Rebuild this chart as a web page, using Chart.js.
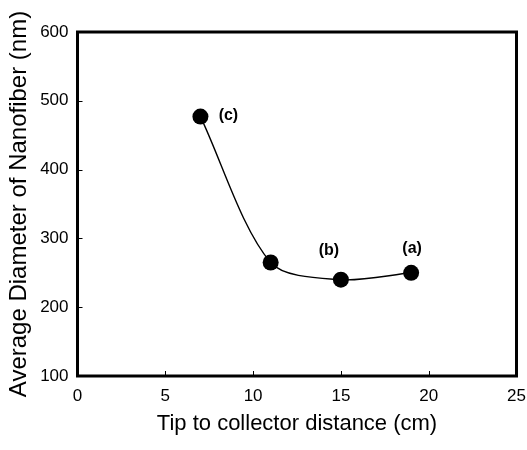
<!DOCTYPE html>
<html>
<head>
<meta charset="utf-8">
<script src="https://cdn.jsdelivr.net/npm/chart.js@4.4.1/dist/chart.umd.min.js"></script>
<style>
  html, body { margin: 0; padding: 0; background: #fff; }
  canvas { display: block; }
</style>
</head>
<body>
<canvas id="myChart" width="527" height="450"></canvas>
<script>
// data
const distances = [7, 11, 15, 19];          // tip to collector distance (cm)
const diameters = [477, 265, 240, 250];     // average diameter (nm)
const sampleNames = ['(c)', '', '(b)', '(a)'];
const xTicks = [0, 5, 10, 15, 20, 25];
const yTicks = [100, 200, 300, 400, 500, 600];

// where the sample names sit, relative to their points (px)
const nameOffsets = [[28, -1], [0, 0], [-12, -29], [1, -24]];

const FONT = "'Liberation Sans', Arial, Helvetica, sans-serif";
Chart.defaults.font.family = FONT;
Chart.defaults.color = '#000';

// keep the plot box where it is in the figure, whatever the labels need
function noLabelPadding(s) {
  s.paddingLeft = s.paddingRight = s.paddingTop = s.paddingBottom = 0;
}

const frame = {
  id: 'frame',
  afterDatasetsDraw(chart) {
    const { ctx, chartArea: a, scales } = chart;
    ctx.save();
    ctx.strokeStyle = '#000';

    // small inward ticks
    ctx.lineWidth = 1;
    ctx.beginPath();
    scales.x.ticks.forEach(t => {
      const px = Math.round(scales.x.getPixelForValue(t.value)) + 0.5;
      ctx.moveTo(px, a.bottom);
      ctx.lineTo(px, a.bottom - 5);
    });
    scales.y.ticks.forEach(t => {
      const py = Math.round(scales.y.getPixelForValue(t.value)) + 0.5;
      ctx.moveTo(a.left, py);
      ctx.lineTo(a.left + 5, py);
    });
    ctx.stroke();

    // box
    ctx.lineWidth = 3;
    ctx.strokeRect(a.left, a.top, a.right - a.left, a.bottom - a.top);

    // sample names
    ctx.font = 'bold 16px ' + FONT;
    ctx.fillStyle = '#000';
    ctx.textAlign = 'center';
    ctx.textBaseline = 'middle';
    const pts = chart.getDatasetMeta(0).data;
    sampleNames.forEach((name, i) => {
      if (!name) return;
      ctx.fillText(name, pts[i].x + nameOffsets[i][0], pts[i].y + nameOffsets[i][1]);
    });
    ctx.restore();
  }
};

new Chart(document.getElementById('myChart').getContext('2d'), {
  type: 'scatter',
  data: {
    datasets: [{
      data: distances.map((d, i) => ({ x: d, y: diameters[i] })),
      showLine: true,
      tension: 0.3,
      borderColor: '#000',
      borderWidth: 1.4,
      pointRadius: 8,
      pointHoverRadius: 8,
      pointBackgroundColor: '#000',
      pointBorderColor: '#000',
      pointBorderWidth: 0
    }]
  },
  options: {
    responsive: false,
    animation: false,
    events: [],
    layout: { padding: { top: 32, right: 10.5, left: 0, bottom: 0 } },
    plugins: {
      legend: { display: false },
      tooltip: { enabled: false }
    },
    scales: {
      x: {
        type: 'linear',
        min: 0,
        max: 25,
        afterBuildTicks: s => { s.ticks = xTicks.map(v => ({ value: v })); },
        afterFit: s => { s.height = 74; noLabelPadding(s); },
        grid: { display: false, drawTicks: false },
        border: { display: false },
        ticks: { padding: 10, font: { size: 17 }, color: '#000', maxRotation: 0 },
        title: {
          display: true,
          text: 'Tip to collector distance (cm)',
          font: { size: 22 },
          color: '#000',
          padding: { top: 0, bottom: 13 }
        }
      },
      y: {
        type: 'linear',
        min: 100,
        max: 600,
        afterBuildTicks: s => { s.ticks = yTicks.map(v => ({ value: v })); },
        afterFit: s => { s.width = 77.5; noLabelPadding(s); },
        grid: { display: false, drawTicks: false },
        border: { display: false },
        ticks: { padding: 9, font: { size: 17 }, color: '#000' },
        title: {
          display: true,
          text: 'Average Diameter of Nanofiber (nm)',
          font: { size: 24 },
          color: '#000',
          padding: { top: 5, bottom: 0 }
        }
      }
    }
  },
  plugins: [frame]
});
</script>
</body>
</html>
